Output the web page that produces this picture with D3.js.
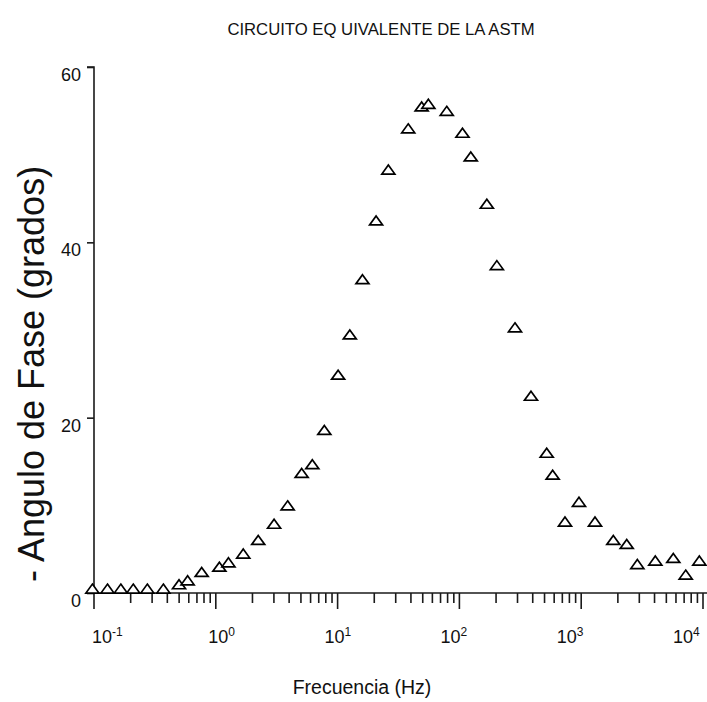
<!DOCTYPE html>
<html>
<head>
<meta charset="utf-8">
<script src="https://cdn.jsdelivr.net/npm/d3@7"></script>
<style>
html,body{margin:0;padding:0;background:#fff;}
svg{display:block;font-family:"Liberation Sans",Arial,sans-serif;}
</style>
</head>
<body>
<svg id="chart" width="707" height="702"></svg>
<script>
// ---- data ----
const frequencies = [0.097, 0.129, 0.166, 0.21, 0.274, 0.371, 0.499, 0.587, 0.766, 1.07, 1.27, 1.68, 2.23, 3.01, 3.89, 5.07, 6.2, 7.78,
  10.1, 12.6, 16.0, 20.7, 26.1, 38.0, 49.0, 55.6, 78.7, 106, 124, 168, 203, 286,
  387, 521, 583, 736, 959, 1298, 1835, 2365, 2890, 4058, 5704, 7211, 9330];
const phaseAngles = [0.5, 0.5, 0.5, 0.5, 0.5, 0.5, 1.0, 1.45, 2.4, 3.0, 3.5, 4.5, 6.05, 7.9, 10.0, 13.7, 14.7, 18.6,
  24.9, 29.5, 35.8, 42.5, 48.3, 53.0, 55.5, 55.8, 55.0, 52.5, 49.8, 44.4, 37.4, 30.3,
  22.5, 16.0, 13.5, 8.15, 10.4, 8.15, 6.05, 5.6, 3.3, 3.7, 4.0, 2.1, 3.7];
const xMajorTicks = [0.1, 1, 10, 100, 1000, 10000];
const xTickExponents = ["-1", "0", "1", "2", "3", "4"];
const yTicks = [0, 20, 40, 60];
const titleText = "CIRCUITO EQ UIVALENTE DE LA ASTM";
const xLabelText = "Frecuencia (Hz)";
const yLabelText = "- Angulo de Fase (grados)";

// ---- layout ----
const svg = d3.select("#chart");
const mLeft = 94, mRight = 703, mTop = 67, mBottom = 593;
const x = d3.scaleLog().domain([0.1, 10000]).range([mLeft, mRight]);
const y = d3.scaleLinear().domain([0, 60]).range([mBottom, mTop]);
const axisColor = "#1a1a1a";

// title
svg.append("text").attr("x", 381).attr("y", 35).attr("text-anchor", "middle")
  .attr("font-size", 16.7).attr("fill", "#111").text(titleText);

// y axis
const yAxis = svg.append("g").attr("transform", `translate(${mLeft},0)`)
  .call(d3.axisLeft(y).tickValues(yTicks).tickSize(7).tickPadding(6).tickFormat(d3.format("d")));
yAxis.select(".domain").attr("d", `M-7,${mTop}H0V${mBottom}`);
yAxis.selectAll("path,line").attr("stroke", axisColor).attr("stroke-width", 1.6);
yAxis.selectAll("text").attr("font-size", 18).attr("font-family", "Liberation Sans, Arial, sans-serif")
  .attr("fill", "#111").attr("dy", "0.75em");

// x axis: line
const xg = svg.append("g");
xg.append("line").attr("x1", mLeft - 7).attr("x2", 707).attr("y1", mBottom).attr("y2", mBottom)
  .attr("stroke", axisColor).attr("stroke-width", 1.6);
// minor + major ticks
const minorTicks = [];
for (let e = -1; e <= 4; e++) {
  for (let m = 1; m <= 9; m++) {
    const v = m * Math.pow(10, e);
    if (v <= 11000) minorTicks.push({v, major: m === 1});
  }
}
xg.selectAll("line.tick").data(minorTicks).join("line").attr("class", "tick")
  .attr("x1", d => x(d.v)).attr("x2", d => x(d.v))
  .attr("y1", mBottom).attr("y2", d => mBottom + (d.major ? 16 : 10))
  .attr("stroke", axisColor).attr("stroke-width", 1.6);
// labels
const labelPos = v => mLeft - 2 + (x(v) - mLeft) * 0.954;
const lbl = xg.selectAll("text.xl").data(xMajorTicks).join("text").attr("class", "xl")
  .attr("x", d => labelPos(d)).attr("y", 643).attr("font-size", 18).attr("fill", "#111");
lbl.append("tspan").text("10");
lbl.append("tspan").attr("dy", -7).attr("font-size", 12).text((d, i) => xTickExponents[i]);

// axis titles
svg.append("text").attr("x", 362).attr("y", 694).attr("text-anchor", "middle")
  .attr("font-size", 19.5).attr("fill", "#111").text(xLabelText);
svg.append("text").attr("transform", "translate(44,374) rotate(-90)").attr("text-anchor", "middle")
  .attr("font-size", 36).attr("fill", "#111").text(yLabelText);

// markers
const data = frequencies.map((f, i) => ({f, v: phaseAngles[i]}));
const tri = "M0,-4.5L6.5,4.5L-6.5,4.5Z";
svg.append("g").selectAll("path").data(data).join("path")
  .attr("transform", d => `translate(${x(d.f)},${y(d.v)})`)
  .attr("d", tri).attr("fill", "#fff").attr("stroke", "#000").attr("stroke-width", 1.7)
  .attr("stroke-linejoin", "miter");
</script>
</body>
</html>
